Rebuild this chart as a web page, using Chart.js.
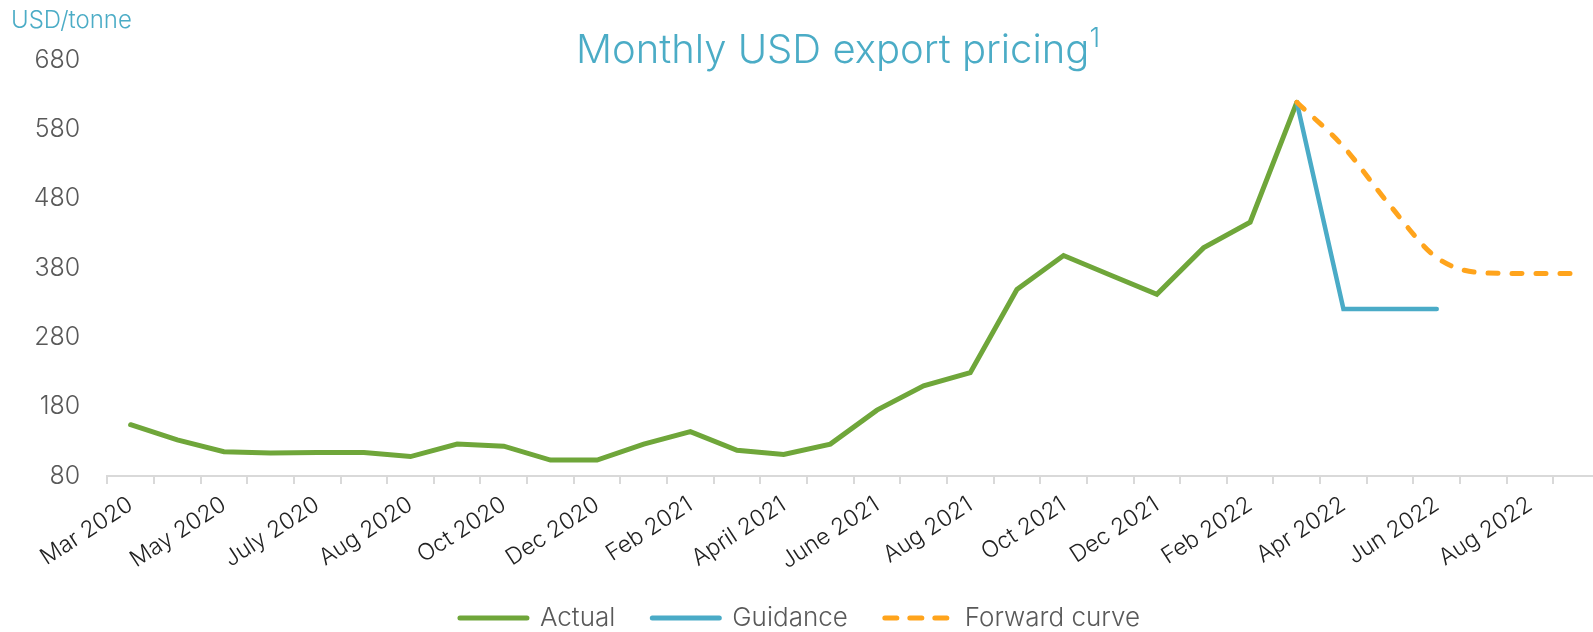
<!DOCTYPE html>
<html lang="en">
<head>
    <meta charset="UTF-8">
    <title>Monthly USD export pricing</title>
    <script src="https://cdn.jsdelivr.net/npm/chart.js"></script>
    <style>
        body { margin: 0; background: #fff; overflow: hidden; font-family: Inter, Roboto, sans-serif; }
        .wrap { position: relative; width: 1600px; height: 641px; }
        .unit { position: absolute; left: 11px; top: 6px; font-size: 24px; line-height: 28px; font-weight: 300; color: #4bacc6; }
        .title { position: absolute; left: 0; width: 1676px; top: 25px; text-align: center; font-size: 40px; line-height: 48px; font-weight: 300; color: #4bacc6; }
        .title sup { font-size: 27px; vertical-align: 16px; line-height: 0; }
    </style>
</head>
<body>
    <div class="wrap">
        <canvas id="priceChart"></canvas>
        <div class="unit">USD/tonne</div>
        <div class="title">Monthly USD export pricing<sup>1</sup></div>
    </div>

    <script>
        // category labels (only every other month is labelled on the axis)
        const months = [
            'Mar 2020', '', 'May 2020', '', 'July 2020', '', 'Aug 2020', '',
            'Oct 2020', '', 'Dec 2020', '', 'Feb 2021', '', 'April 2021', '',
            'June 2021', '', 'Aug 2021', '', 'Oct 2021', '', 'Dec 2021', '',
            'Feb 2022', '', 'Apr 2022', '', 'Jun 2022', '', 'Aug 2022', ''
        ];

        const actual = [154, 132, 115, 113, 114, 114, 108, 126, 123, 103, 103, 126, 144,
                        117, 111, 126, 175, 210, 229, 349, 398, 370, 342, 409, 446, 619];

        const guidance = [null, null, null, null, null, null, null, null, null, null, null, null, null,
                          null, null, null, null, null, null, null, null, null, null, null, null,
                          619, 321, 321, 321];

        const forward = [null, null, null, null, null, null, null, null, null, null, null, null, null,
                         null, null, null, null, null, null, null, null, null, null, null, null,
                         619, 555, 470, 395, 373, 372, 372];

        const yTicks = [80, 180, 280, 380, 480, 580, 680];

        const GREEN = '#6fa63a';
        const BLUE = '#4aabc7';
        const ORANGE = '#ffa41c';

        const ctx = document.getElementById('priceChart').getContext('2d');

        new Chart(ctx, {
            type: 'line',
            data: {
                labels: months,
                datasets: [
                    {
                        label: 'Forward curve',
                        data: forward,
                        borderColor: ORANGE,
                        borderWidth: 5,
                        borderDash: [10, 14],
                        borderCapStyle: 'round',
                        cubicInterpolationMode: 'monotone',
                        pointRadius: 0,
                        order: 0
                    },
                    {
                        label: 'Guidance',
                        data: guidance,
                        borderColor: BLUE,
                        borderWidth: 4.5,
                        borderCapStyle: 'round',
                        pointRadius: 0,
                        order: 1
                    },
                    {
                        label: 'Actual',
                        data: actual,
                        borderColor: GREEN,
                        borderWidth: 5,
                        borderCapStyle: 'round',
                        pointRadius: 0,
                        order: 2
                    }
                ]
            },
            options: {
                responsive: true,
                maintainAspectRatio: false,
                animation: false,
                layout: { padding: { top: 60, left: 0, right: 0, bottom: 0 } },
                scales: {
                    x: {
                        offset: true,
                        grid: {
                            drawOnChartArea: false,
                            tickLength: 8,
                            color: '#d9d9d9',
                            lineWidth: 2,
                            offset: true
                        },
                        border: { display: true, color: '#d9d9d9', width: 2 },
                        ticks: {
                            autoSkip: false,
                            maxRotation: 33,
                            minRotation: 33,
                            padding: 7,
                            color: '#222',
                            font: { family: 'Inter', size: 23, weight: 300 }
                        },
                        afterFit: s => { s.height = 92; }
                    },
                    y: {
                        min: 80,
                        max: 680,
                        grid: { display: false },
                        border: { display: false },
                        afterBuildTicks: s => { s.ticks = yTicks.map(v => ({ value: v })); },
                        ticks: {
                            padding: 19,
                            color: '#595959',
                            font: { family: 'Inter', size: 25, weight: 300 }
                        },
                        afterFit: s => { s.width = 107.3; }
                    }
                },
                plugins: {
                    tooltip: { enabled: false },
                    legend: {
                        position: 'bottom',
                        labels: {
                            usePointStyle: true,
                            pointStyleWidth: 67,
                            padding: 37,
                            color: '#595959',
                            font: { family: 'Inter', size: 26, weight: 300 },
                            generateLabels: () => [
                                { text: 'Actual', strokeStyle: GREEN, lineWidth: 5, pointStyle: 'line', lineCap: 'round', fontColor: '#595959' },
                                { text: 'Guidance', strokeStyle: BLUE, lineWidth: 5, pointStyle: 'line', lineCap: 'round', fontColor: '#595959' },
                                { text: 'Forward curve', strokeStyle: ORANGE, lineWidth: 5, pointStyle: 'line', lineCap: 'round', lineDash: [12, 13], fontColor: '#595959' }
                            ]
                        }
                    }
                }
            }
        });
    </script>
</body>
</html>
